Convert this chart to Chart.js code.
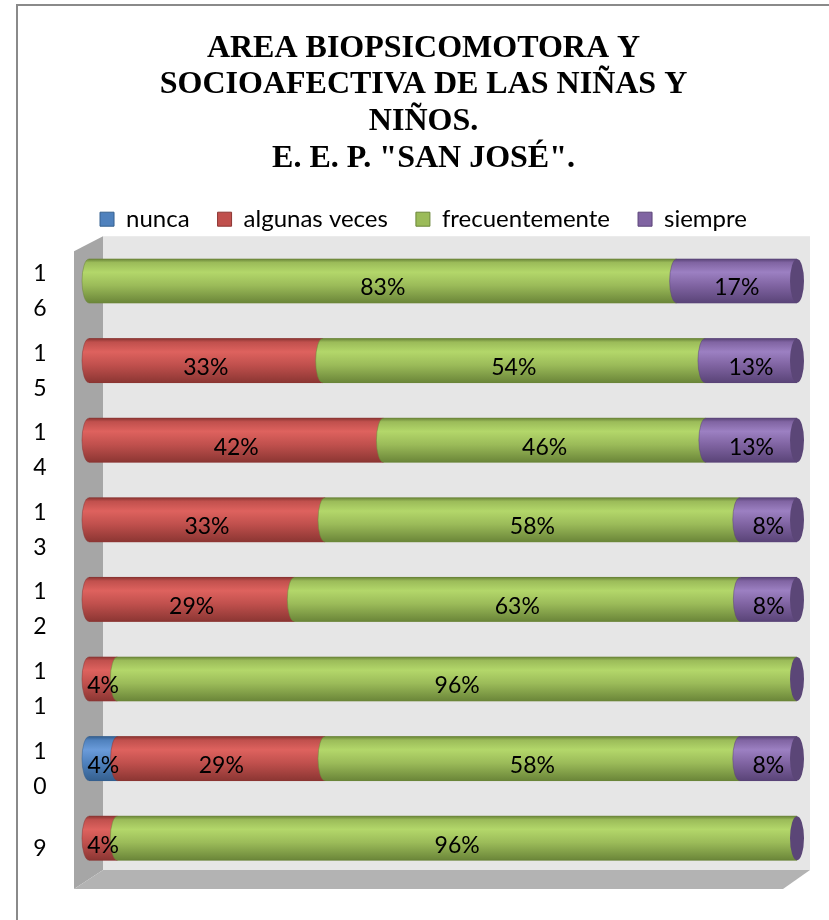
<!DOCTYPE html>
<html>
<head>
<meta charset="utf-8">
<script src="https://cdn.jsdelivr.net/npm/chart.js@4.4.1/dist/chart.umd.min.js"></script>
<style>
  html, body { margin: 0; padding: 0; background: #fff; }
  #wrap { width: 829px; height: 920px; }
</style>
</head>
<body>
<div id="wrap"><canvas id="chart" width="829" height="920"></canvas></div>
<script>
// rows from top to bottom
var categories = ['16', '15', '14', '13', '12', '11', '10', '9'];
var nunca          = [0, 0, 0, 0, 0, 0, 4, 0];
var algunasVeces   = [0, 33, 42, 33, 29, 4, 29, 4];
var frecuentemente = [83, 54, 46, 58, 63, 96, 58, 96];
var siempre        = [17, 13, 13, 8, 8, 0, 8, 0];
var seriesNames = ['nunca', 'algunas veces', 'frecuentemente', 'siempre'];

var raw = [nunca, algunasVeces, frecuentemente, siempre];
// 100% stacked: plot each value as share of its row total
var totals = categories.map(function(c, i) {
  return raw.reduce(function(s, arr) { return s + arr[i]; }, 0);
});
function shares(arr) {
  return arr.map(function(v, i) { return v / totals[i] * 100; });
}

var base  = ['#4F81BD', '#C0504D', '#9BBB59', '#8064A2'];
var light = ['#6A9BDA', '#DE625E', '#B3D76A', '#9C80C2'];
var dark  = ['#35608F', '#8C3633', '#6B8639', '#5A4478'];
var capColor = '#5B4677';

function cylGrad(ctx, i, top, bottom) {
  var g = ctx.createLinearGradient(0, top, 0, bottom);
  g.addColorStop(0, dark[i]);
  g.addColorStop(0.08, base[i]);
  g.addColorStop(0.3, light[i]);
  g.addColorStop(0.6, base[i]);
  g.addColorStop(1, dark[i]);
  return g;
}

var framePlugin = {
  id: 'frame',
  beforeDraw: function(chart) {
    var ctx = chart.ctx, a = chart.chartArea;
    ctx.save();
    ctx.fillStyle = '#fff';
    ctx.fillRect(0, 0, chart.width, chart.height);
    // outer border
    ctx.strokeStyle = '#8A8A8A';
    ctx.lineWidth = 2;
    ctx.beginPath();
    ctx.moveTo(17, chart.height);
    ctx.lineTo(17, 5);
    ctx.lineTo(chart.width, 5);
    ctx.stroke();
    // 3D walls
    var wl = a.left - 15, wr = a.left + 14, wallR = a.right + 13;
    var top = a.top - 5, floorT = a.bottom - 8, floorB = a.bottom + 11;
    ctx.fillStyle = '#E6E6E6';
    ctx.fillRect(wr, top, wallR - wr, floorT - top);
    ctx.fillStyle = '#A6A6A6';
    ctx.beginPath();
    ctx.moveTo(wl, top + 15);
    ctx.lineTo(wr, top);
    ctx.lineTo(wr, floorT);
    ctx.lineTo(wl, floorB);
    ctx.closePath();
    ctx.fill();
    ctx.fillStyle = '#B3B3B3';
    ctx.beginPath();
    ctx.moveTo(wl, floorB);
    ctx.lineTo(wr, floorT);
    ctx.lineTo(wallR, floorT);
    ctx.lineTo(wallR - 27, floorB);
    ctx.closePath();
    ctx.fill();
    ctx.restore();
  }
};

var cylinderPlugin = {
  id: 'cylinder',
  afterDatasetsDraw: function(chart) {
    var ctx = chart.ctx;
    var rx = 7;
    var yScale = chart.scales.y;
    ctx.save();
    categories.forEach(function(c, row) {
      var lastEnd = null, top = 0, bottom = 0, cy = 0;
      for (var d = 0; d < raw.length; d++) {
        var el = chart.getDatasetMeta(d).data[row];
        var x0 = Math.min(el.base, el.x), x1 = Math.max(el.base, el.x);
        top = el.y - el.height / 2; bottom = el.y + el.height / 2; cy = el.y;
        lastEnd = x1;
        if (raw[d][row] <= 0) continue;
        var ry = el.height / 2;
        ctx.beginPath();
        ctx.ellipse(x0, cy, rx, ry, 0, Math.PI / 2, Math.PI * 1.5);
        ctx.lineTo(x1, top);
        ctx.lineTo(x1, bottom);
        ctx.closePath();
        ctx.fillStyle = cylGrad(ctx, d, top, bottom);
        ctx.fill();
        ctx.strokeStyle = dark[d];
        ctx.globalAlpha = 0.5;
        ctx.lineWidth = 1;
        ctx.stroke();
        ctx.globalAlpha = 1;
      }
      // right end cap
      ctx.beginPath();
      ctx.ellipse(lastEnd, cy, rx, (bottom - top) / 2, 0, 0, Math.PI * 2);
      ctx.fillStyle = capColor;
      ctx.fill();
      // value labels
      ctx.fillStyle = '#000';
      ctx.font = '23px Lato';
      ctx.textAlign = 'center';
      ctx.textBaseline = 'middle';
      for (var k = 0; k < raw.length; k++) {
        if (raw[k][row] <= 0) continue;
        var e = chart.getDatasetMeta(k).data[row];
        ctx.fillText(raw[k][row] + '%', (e.base + e.x) / 2, e.y + 7);
      }
      // category labels, one digit per line
      var py = yScale.getPixelForValue(row) + 10;
      var chars = c.split('');
      var step = 35;
      chars.forEach(function(ch, j) {
        ctx.fillText(ch, 40, py + (j - (chars.length - 1) / 2) * step);
      });
    });
    ctx.restore();
  }
};

var datasets = raw.map(function(arr, i) {
  return {
    label: seriesNames[i],
    data: shares(arr),
    backgroundColor: base[i],
    borderColor: dark[i],
    borderWidth: 1,
    barThickness: 44
  };
});

var ctx = document.getElementById('chart').getContext('2d');
var chart = new Chart(ctx, {
  type: 'bar',
  data: { labels: categories, datasets: datasets },
  options: {
    indexAxis: 'y',
    responsive: false,
    animation: false,
    layout: { padding: { left: 50, right: 32, top: 0, bottom: 42 } },
    scales: {
      x: { stacked: true, min: 0, max: 100, display: false },
      y: {
        stacked: true,
        grid: { display: false },
        border: { display: false },
        ticks: { display: false },
        afterFit: function(scale) { scale.width = 39; }
      }
    },
    plugins: {
      title: {
        display: true,
        text: ['AREA BIOPSICOMOTORA Y', 'SOCIOAFECTIVA DE LAS NIÑAS Y', 'NIÑOS.', 'E. E. P. "SAN JOSÉ".'],
        color: '#000',
        font: { family: 'Liberation Serif', size: 32, weight: 'bold', lineHeight: 1.15 },
        padding: { top: 30, bottom: 2 }
      },
      legend: {
        display: true,
        labels: {
          color: '#000',
          boxWidth: 14,
          boxHeight: 14,
          padding: 28,
          font: { family: 'Lato', size: 24 }
        }
      },
      tooltip: { enabled: false }
    }
  },
  plugins: [framePlugin, cylinderPlugin]
});
</script>
</body>
</html>
